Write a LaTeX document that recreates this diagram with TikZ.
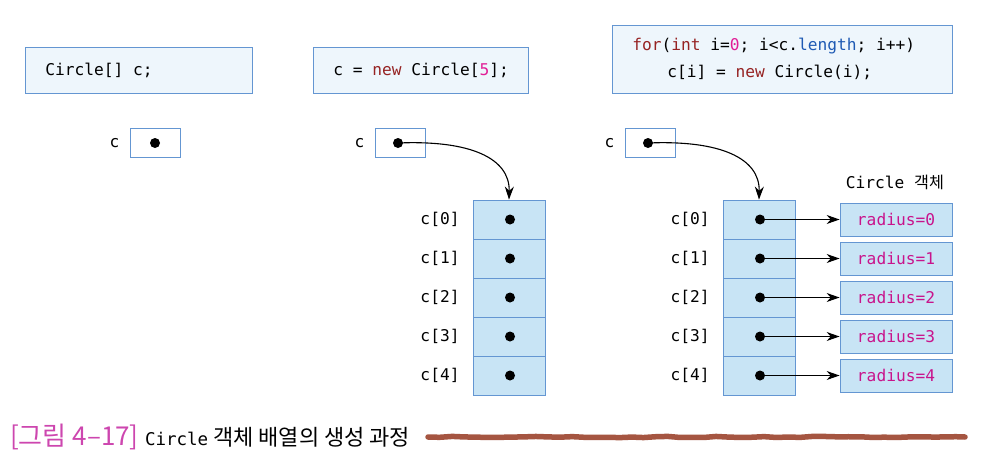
\documentclass[tikz,border=0pt]{standalone}
\usepackage{fontspec}
\usetikzlibrary{arrows.meta,decorations.pathmorphing,positioning}
\setmonofont{DejaVu Sans Mono}
\newfontfamily\krfont{Noto Sans CJK KR}
\newfontfamily\codefont{DejaVu Sans Mono}
\newcommand{\ms}{\hspace*{0.602em}}
\definecolor{codebg}{RGB}{238,246,252}
\definecolor{boxline}{RGB}{100,150,210}
\definecolor{cellbg}{RGB}{200,228,245}
\definecolor{kwred}{RGB}{150,35,35}
\definecolor{nummag}{RGB}{225,30,150}
\definecolor{kwblue}{RGB}{30,90,180}
\definecolor{radmag}{RGB}{200,20,140}
\definecolor{capmag}{RGB}{205,70,175}
\definecolor{brushbrown}{RGB}{165,85,65}
\tikzset{
  code/.style={font=\codefont\fontsize{16.2}{27}\selectfont},
  codebox/.style={draw=boxline, fill=codebg, line width=0.8pt, code, align=left, inner xsep=20pt, anchor=north west},
  refbox/.style={draw=boxline, line width=0.8pt, minimum width=50pt, minimum height=29pt, inner sep=0pt},
  cell/.style={draw=boxline, fill=cellbg, line width=0.8pt, minimum width=72pt, minimum height=39pt, inner sep=0pt},
  objbox/.style={draw=boxline, fill=cellbg, line width=0.8pt, minimum width=112pt, minimum height=33pt, inner sep=0pt, code, text=radmag},
  lbl/.style={code, inner sep=0pt},
  dot/.style={circle, fill=black, inner sep=0pt, minimum size=10pt},
  ptr/.style={line width=1.1pt, -{Stealth[length=13pt,width=9pt]}},
}
\begin{document}
\begin{tikzpicture}[x=1pt,y=-1pt]
\useasboundingbox (0,0) rectangle (988,474);
\fill[white] (0,0) rectangle (988,474);
% code boxes
\node[codebox, text width=187pt, minimum height=46pt] (b1) at (25,47) {\mbox{Circle[]\ms c;}};
\node[codebox, text width=175pt, minimum height=46pt] (b2) at (313,47) {\mbox{c\ms=\ms\textcolor{kwred}{new}\ms Circle[\textcolor{nummag}{5}];}};
\node[codebox, text width=300pt, minimum height=68pt] (b3) at (612,25) {\mbox{\textcolor{kwred}{for}(\textcolor{kwred}{int}\ms i=\textcolor{nummag}{0};\ms i<c.\textcolor{kwblue}{length};\ms i++)}\\\mbox{\hspace*{35pt}c[i]\ms=\ms\textcolor{kwred}{new}\ms Circle(i);}};
% reference boxes
\node[refbox] (r1) at (155,143) {};
\node[lbl, left=10pt of r1] (l1) {c};
\node[dot] (d1) at (155,143) {};
\node[refbox] (r2) at (400,143) {};
\node[lbl, left=10pt of r2] (l2) {c};
\node[dot] (d2) at (398,143) {};
\node[refbox] (r3) at (650,143) {};
\node[lbl, left=10pt of r3] (l3) {c};
\node[dot] (d3) at (648,143) {};
% arrays
\foreach \i in {0,...,4}{
  \pgfmathsetmacro{\yy}{219.5+39*\i}
  \node[cell] (m\i) at (509,\yy) {};
  \node[dot] (md\i) at (510,\yy) {};
  \node[lbl] (ml\i) at (440,\yy) {c[\i]};
  \node[cell] (n\i) at (759,\yy) {};
  \node[dot] (nd\i) at (760,\yy) {};
  \node[lbl] (nl\i) at (690,\yy) {c[\i]};
  \node[objbox] (o\i) at (896,\yy) {radius=\i};
  \draw[ptr] (nd\i.center) -- (o\i.west);
}
\node[lbl] (objlbl) at (895,182) {Circle\ms{\krfont 객체}};
% curved pointers
\draw[ptr] (d2.center) .. controls (470,140) and (510,158) .. (m0.north);
\draw[ptr] (d3.center) .. controls (720,140) and (760,158) .. (n0.north);
% caption
\node[anchor=west, inner sep=0pt, font=\krfont\fontsize{26}{30}\selectfont, text=capmag] (cap1) at (10,437) {[그림 4–17]};
\node[anchor=west, inner sep=0pt, right=6pt of cap1] (cap2) {{\codefont\fontsize{17.5}{20}\selectfont Circle}{\krfont\fontsize{22}{26}\selectfont\ 객체 배열의 생성 과정}};
\coordinate (bs) at (428,437);
\coordinate (be) at (965,437);
\draw[brushbrown, line width=5.5pt, line cap=round, decorate, decoration={random steps, segment length=12pt, amplitude=0.6pt}] (bs) -- (be);
\end{tikzpicture}
\end{document}
